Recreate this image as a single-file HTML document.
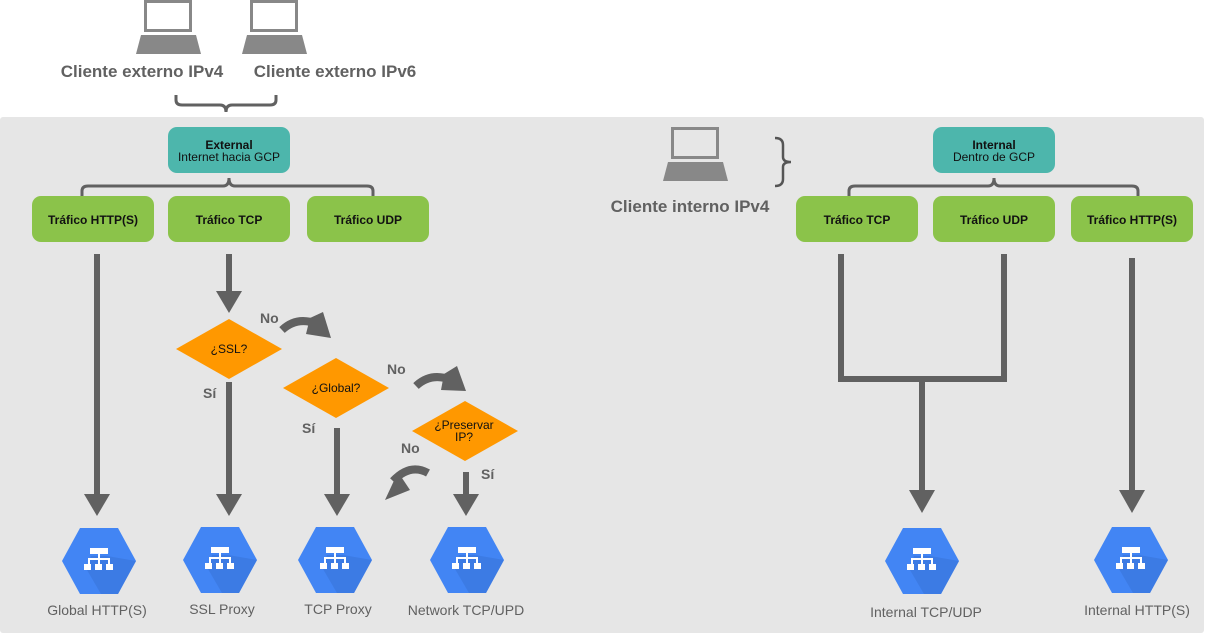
<!DOCTYPE html>
<html><head><meta charset="utf-8"><style>
body{margin:0;background:#fff;}
svg{display:block;font-family:"Liberation Sans",sans-serif;}
</style></head><body>
<svg width="1205" height="637" viewBox="0 0 1205 637" xmlns="http://www.w3.org/2000/svg">
<defs>
<g id="lap"><rect x="9.5" y="1.5" width="45" height="29" fill="none" stroke="#888" stroke-width="3"/><polygon points="5,35 60,35 65,54 0,54" fill="#888"/></g>
<g id="hex"><polygon points="-37,0 -19,-33 19,-33 37,0 19,33 -19,33" fill="#4285f4"/>
<polygon points="-8,-5 8,-5 37,0 19,33 2,33 -12,9" fill="#3b78e0" opacity="0.8"/>
<rect x="-9" y="-13" width="18" height="6" fill="#fff"/><rect x="-1" y="-7" width="2" height="5" fill="#fff"/>
<rect x="-11" y="-3" width="22" height="2" fill="#fff"/>
<rect x="-11" y="-3" width="2" height="6" fill="#fff"/><rect x="-1" y="-3" width="2" height="6" fill="#fff"/><rect x="9" y="-3" width="2" height="6" fill="#fff"/>
<rect x="-15" y="3" width="7" height="6" fill="#fff"/><rect x="-4" y="3" width="7" height="6" fill="#fff"/><rect x="7" y="3" width="7" height="6" fill="#fff"/></g>
</defs>
<rect x="0" y="117" width="1204" height="516" rx="3" fill="#e6e6e6"/>
<use href="#lap" x="136" y="0"/><use href="#lap" x="242" y="0"/><use href="#lap" x="663" y="127"/>
<g font-weight="bold" font-size="17" fill="#616161" text-anchor="middle">
<text x="142" y="77">Cliente externo IPv4</text><text x="335" y="77">Cliente externo IPv6</text><text x="690" y="212">Cliente interno IPv4</text></g>
<g fill="none" stroke="#616161" stroke-width="3">
<path d="M176,95 v5 q0,5 6,5 h38 q6,0 6,7 q0,-7 6,-7 h38 q6,0 6,-5 v-5"/>
<path d="M82,196 v-5 q0,-5 6,-5 h135 q6,0 6,-8 q0,8 6,8 h132 q6,0 6,5 v5"/>
<path d="M849,196 v-5 q0,-5 6,-5 h133 q6,0 6,-8 q0,8 6,8 h132 q6,0 6,5 v5"/>
<path d="M775,138 q8,0 8,7 v12 q0,5 8,5 q-8,0 -8,5 v12 q0,7 -8,7" stroke="#555" stroke-width="2.5"/>
</g>
<g fill="#4db6ac"><rect x="168" y="127" width="122" height="46" rx="9"/><rect x="933" y="127" width="122" height="46" rx="9"/></g>
<g font-size="12" text-anchor="middle" fill="#111">
<text x="229" y="149" font-weight="bold">External</text><text x="229" y="161">Internet hacia GCP</text>
<text x="994" y="149" font-weight="bold">Internal</text><text x="994" y="161">Dentro de GCP</text></g>
<g fill="#8bc34a">
<rect x="32" y="196" width="122" height="46" rx="9"/><rect x="168" y="196" width="122" height="46" rx="9"/><rect x="307" y="196" width="122" height="46" rx="9"/>
<rect x="796" y="196" width="122" height="46" rx="9"/><rect x="933" y="196" width="122" height="46" rx="9"/><rect x="1071" y="196" width="122" height="46" rx="9"/></g>
<g font-size="12" font-weight="bold" text-anchor="middle" fill="#111">
<text x="93" y="224">Tráfico HTTP(S)</text><text x="229" y="224">Tráfico TCP</text><text x="368" y="224">Tráfico UDP</text>
<text x="857" y="224">Tráfico TCP</text><text x="994" y="224">Tráfico UDP</text><text x="1132" y="224">Tráfico HTTP(S)</text></g>
<g fill="#616161">
<rect x="94" y="254" width="6" height="242"/><polygon points="84,494 110,494 97,516"/>
<rect x="226" y="254" width="6" height="39"/><polygon points="216,291 242,291 229,313"/>
<rect x="226" y="382" width="6" height="114"/><polygon points="216,494 242,494 229,516"/>
<rect x="334" y="428" width="6" height="68"/><polygon points="324,494 350,494 337,516"/>
<rect x="463" y="472" width="6" height="24"/><polygon points="453,494 479,494 466,516"/>
<rect x="838" y="254" width="6" height="128"/><rect x="1001" y="254" width="6" height="128"/><rect x="838" y="376" width="169" height="6"/>
<rect x="919" y="379" width="6" height="113"/><polygon points="909,490 935,490 922,513"/>
<rect x="1129" y="258" width="6" height="234"/><polygon points="1119,490 1145,490 1132,513"/>
</g>
<g fill="none" stroke="#616161" stroke-width="8">
<path d="M282,330 q15,-14 35,-6"/><path d="M416,386 q15,-14 35,-6"/><path d="M428,473 q-18,-10 -35,8"/></g>
<g fill="#616161">
<polygon points="310,318 323,312 331,338 306,334"/><polygon points="444,374 457,366 466,391 441,390"/><polygon points="398,472 385,500 410,490"/></g>
<g fill="#ff9800">
<polygon points="176,349 229,319 282,349 229,379"/><polygon points="283,388 336,358 389,388 336,418"/><polygon points="412,431 465,401 518,431 465,461"/></g>
<g font-size="12" text-anchor="middle" fill="#111">
<text x="229" y="353">¿SSL?</text><text x="336" y="392">¿Global?</text><text x="464" y="429">¿Preservar</text><text x="464" y="441">IP?</text></g>
<g font-size="14" font-weight="bold" fill="#616161">
<text x="260" y="323">No</text><text x="203" y="398">Sí</text><text x="387" y="374">No</text><text x="302" y="433">Sí</text><text x="401" y="453">No</text><text x="481" y="479">Sí</text></g>
<use href="#hex" x="99" y="561"/><use href="#hex" x="220" y="560"/><use href="#hex" x="335" y="560"/><use href="#hex" x="467" y="560"/><use href="#hex" x="922" y="561"/><use href="#hex" x="1131" y="560"/>
<g font-size="14" text-anchor="middle" fill="#616161">
<text x="97" y="615">Global HTTP(S)</text><text x="222" y="614">SSL Proxy</text><text x="338" y="614">TCP Proxy</text><text x="466" y="615">Network TCP/UPD</text>
<text x="926" y="617">Internal TCP/UDP</text><text x="1137" y="615">Internal HTTP(S)</text></g>
</svg>
</body></html>
